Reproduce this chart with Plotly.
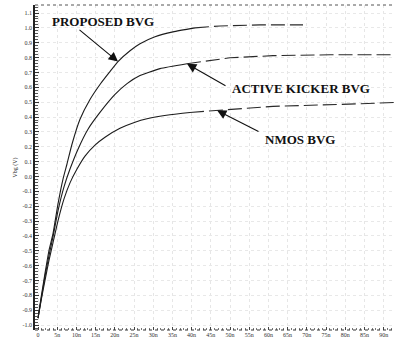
import plotly.graph_objects as go

# Transient response of the three body-voltage generators (time in ns, Vbg in V)
t_proposed = [0, 0.78, 1.82, 2.86, 3.91, 5.21, 6.51, 7.55, 8.85, 10.94, 13.54, 16.14,
              18.75, 20.83, 23.96, 26.56, 30.47, 35.15, 40.88, 47.39, 57.81, 69.01]
vbg_proposed = [-0.953, -0.819, -0.652, -0.498, -0.385, -0.184, -0.017, 0.084, 0.217,
                0.385, 0.518, 0.619, 0.706, 0.773, 0.846, 0.893, 0.940, 0.973, 1.000,
                1.013, 1.020, 1.020]

t_kicker = [0, 0.78, 1.82, 2.86, 3.91, 5.21, 6.77, 8.33, 10.42, 13.02, 16.14, 20.05,
            23.18, 26.56, 31.77, 38.80, 50.00, 61.19, 76.04, 92.9]
vbg_kicker = [-0.953, -0.833, -0.672, -0.532, -0.405, -0.231, -0.070, 0.050, 0.184,
              0.318, 0.431, 0.552, 0.625, 0.679, 0.726, 0.759, 0.799, 0.813, 0.819,
              0.819]

t_nmos = [0, 0.78, 1.82, 2.86, 3.91, 5.21, 6.77, 8.33, 10.16, 12.24, 14.84, 17.45,
          21.35, 25.26, 28.38, 34.37, 39.58, 46.61, 53.90, 61.19, 78.64, 92.9]
vbg_nmos = [-0.953, -0.839, -0.699, -0.565, -0.445, -0.298, -0.151, -0.043, 0.050,
            0.137, 0.211, 0.264, 0.324, 0.365, 0.388, 0.415, 0.431, 0.445, 0.458,
            0.472, 0.485, 0.498]

x_tick_vals = list(range(0, 95, 5))
x_tick_text = ["0"] + [f"{v}n" for v in range(5, 95, 5)]
y_tick_vals = [round(-1.0 + 0.1 * i, 1) for i in range(22)]
y_tick_text = [f"{v:.1f}" for v in y_tick_vals]

# settled part of each waveform is drawn with a broken stroke
SETTLE_NS = 38.0

fig = go.Figure()
for name, xs, ys in [("PROPOSED BVG", t_proposed, vbg_proposed),
                     ("ACTIVE KICKER BVG", t_kicker, vbg_kicker),
                     ("NMOS BVG", t_nmos, vbg_nmos)]:
    k = next(i for i, t in enumerate(xs) if t >= SETTLE_NS)
    fig.add_trace(go.Scatter(x=xs[:k + 1], y=ys[:k + 1], mode="lines", name=name,
                             line=dict(color="#1c1c1c", width=1.1, shape="spline",
                                       smoothing=0.5)))
    fig.add_trace(go.Scatter(x=xs[k:], y=ys[k:], mode="lines", name=name,
                             line=dict(color="#2a2a2a", width=1.1, dash="14px,5px")))

label_font = dict(family="Liberation Serif", size=13, color="#111111")

# arrows: tip on the curve, tail offset in pixels
arrows = [(20.83, 0.773, -40, -33), (38.80, 0.759, 40, 23), (46.61, 0.445, 43, 22)]
for xt, yt, ax, ay in arrows:
    fig.add_annotation(x=xt, y=yt, xref="x", yref="y", ax=ax, ay=ay, text="",
                       showarrow=True, arrowhead=2, arrowsize=1.7, arrowwidth=1.1,
                       arrowcolor="#111111")

texts = [("<b>PROPOSED BVG</b>", 3.1, 1.040),
         ("<b>ACTIVE KICKER BVG</b>", 50.0, 0.592),
         ("<b>NMOS BVG</b>", 58.6, 0.251)]
for txt, xx, yy in texts:
    fig.add_annotation(x=xx, y=yy, xref="x", yref="y", text=txt, showarrow=False,
                       xanchor="left", yanchor="middle", font=label_font)

# dotted top frame and dotted baseline
fig.add_shape(type="line", xref="paper", yref="paper", x0=0, x1=1, y0=1, y1=1,
              line=dict(color="#555555", width=1, dash="dot"))
fig.add_shape(type="line", xref="paper", yref="paper", x0=0, x1=0.995, y0=0, y1=0,
              line=dict(color="#333333", width=1.2, dash="dot"))

fig.update_layout(
    width=403, height=343,
    margin=dict(l=35, r=8, t=5, b=11),
    paper_bgcolor="white", plot_bgcolor="white",
    showlegend=False,
    font=dict(family="Liberation Serif", size=6, color="#333333"),
)
fig.update_xaxes(
    range=[-0.78, 92.96], tickvals=x_tick_vals, ticktext=x_tick_text,
    showline=False,
    ticks="inside", ticklen=3, tickcolor="#444444",
    minor=dict(ticks="inside", ticklen=2, dtick=1, tickcolor="#777777"),
    showgrid=True, gridcolor="#e6e6e6", griddash="dot", gridwidth=1,
    zeroline=False, tickfont=dict(size=6, color="#333333"),
)
fig.update_yaxes(
    range=[-1.033, 1.154], tickvals=y_tick_vals, ticktext=y_tick_text,
    showline=True, linecolor="#222222", linewidth=1.5,
    ticks="inside", ticklen=4, tickcolor="#333333",
    minor=dict(ticks="inside", ticklen=3, dtick=0.02, tickcolor="#555555"),
    showgrid=True, gridcolor="#e8e8e8", griddash="dot", gridwidth=1,
    zeroline=False, tickfont=dict(size=6, color="#333333"),
    title=dict(text="Vbg (V)", font=dict(size=6, color="#222222"), standoff=4),
)

fig.write_html("out.html")
